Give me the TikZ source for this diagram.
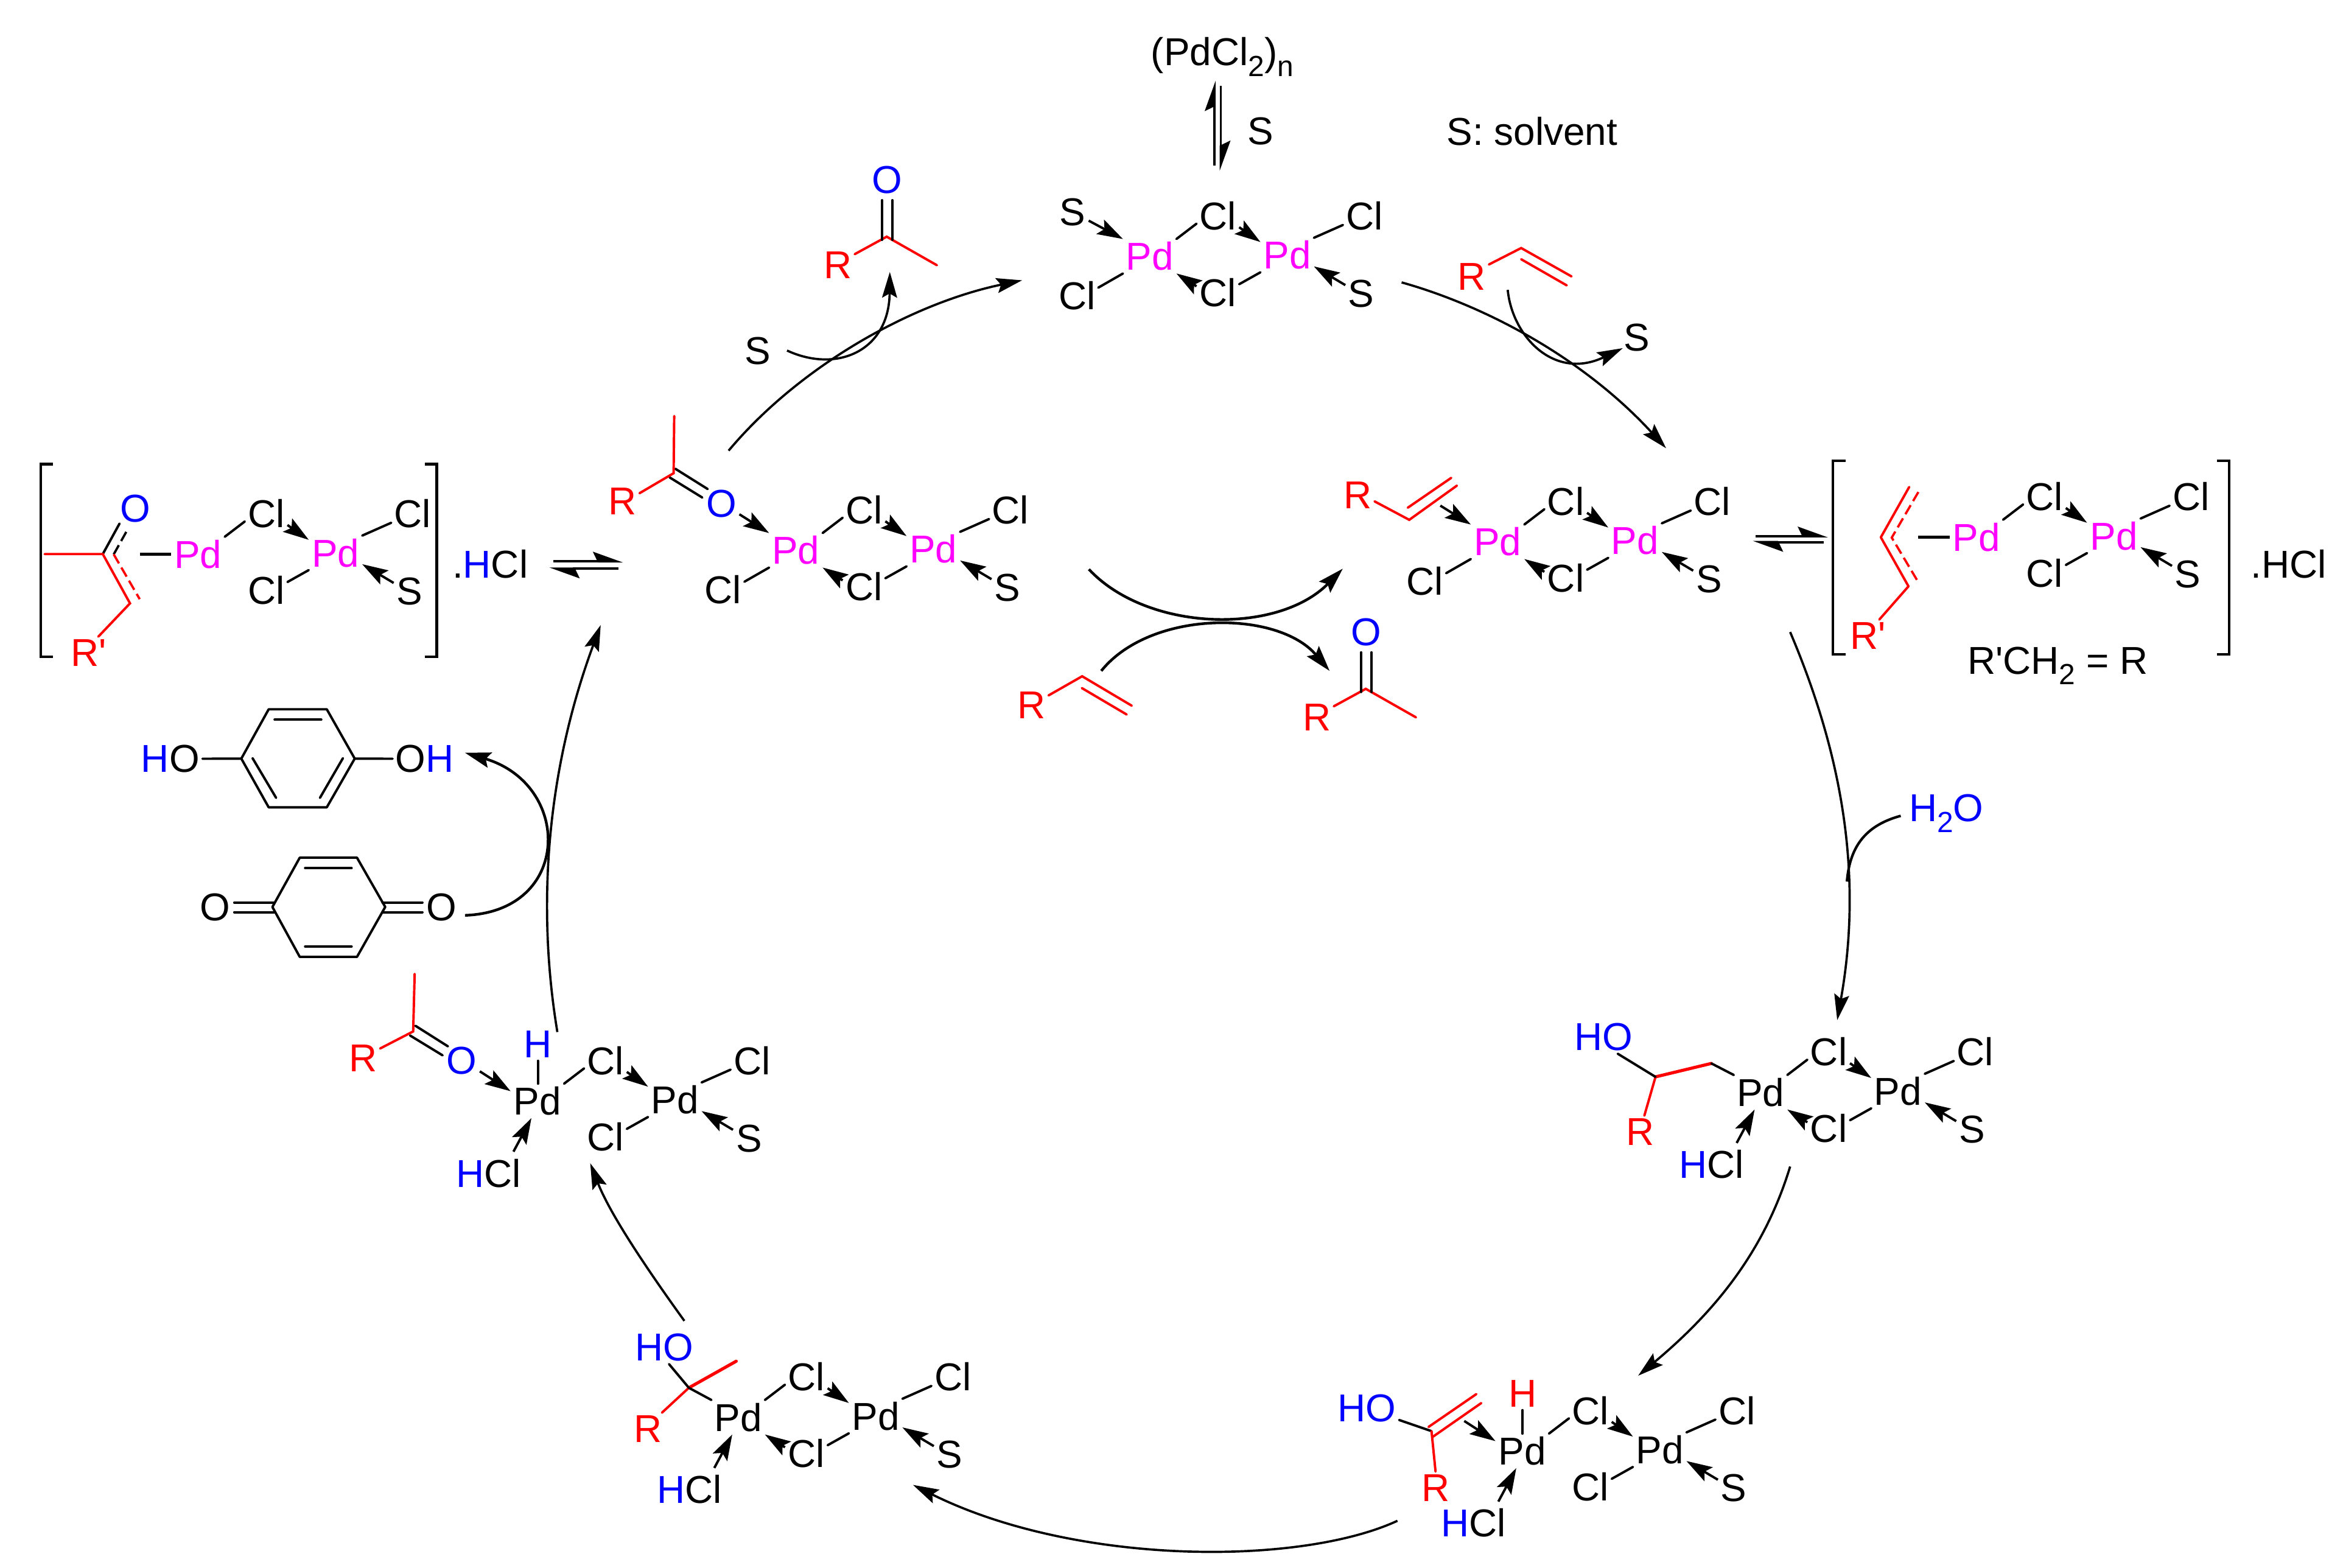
\documentclass[tikz,border=0pt]{standalone}
\usepackage{fontspec}
\setmainfont{Liberation Sans}[Ligatures=TeXOff]
\usetikzlibrary{arrows.meta}
\definecolor{cmag}{RGB}{255,0,255}
\definecolor{cred}{RGB}{255,0,0}
\definecolor{cblue}{RGB}{0,0,255}
\newcommand{\sbs}[1]{\raisebox{-0.28em}{\fontsize{9.75}{10}\selectfont #1}}
\newcommand{\bl}[1]{\textcolor{cblue}{#1}}
\newcommand{\prm}{\symbol{39}}
\tikzset{
  atom/.style={inner sep=1pt,outer sep=0pt,font=\fontsize{13}{15}\selectfont},
  bond/.style={line width=.8pt,line cap=round,black},
  rbond/.style={line width=.8pt,line cap=round,cred},
  rthick/.style={line width=1.05pt,line cap=round,cred},
  thickb/.style={line width=1.05pt,black},
  dat/.style={line width=.8pt,-{Stealth[length=8.6pt,width=5.4pt,inset=1.6pt]}},
  arc/.style={line width=.75pt,-{Stealth[length=8.6pt,width=5pt,inset=1.4pt]}},
  arcb/.style={line width=.9pt,-{Stealth[length=8.6pt,width=5.2pt,inset=1.4pt]}},
  hp/.style={line width=.8pt,-{Stealth[harpoon,length=9pt,width=6.4pt,inset=1.5pt]}},
  brk/.style={line width=.85pt,line join=miter},
  dashb/.style={line width=.75pt,dash pattern=on 3.5pt off 1.6pt,black},
  dashr/.style={line width=.75pt,dash pattern=on 3.5pt off 1.6pt,cred},
}
% Pd(Cl)Pd core: prefix, x, y, Pd colour
\newcommand{\pdcore}[4]{%
  \begin{scope}[shift={(#2,#3)}]
    \node[atom,text=#4] (#1a) at (0,0) {Pd};
    \node[atom,text=#4] (#1b) at (92,-.8) {Pd};
    \node[atom] (#1t) at (45.6,-27) {Cl};
    \node[atom] (#1u) at (45.6,24.2) {Cl};
    \node[atom] (#1r) at (143.6,-27) {Cl};
    \node[atom] (#1s) at (141.6,25) {S};
  \end{scope}
  \draw[bond] (#1a.north east) -- (#1t.200);
  \draw[dat] (#1t.-28) -- (#1b.154);
  \draw[bond] (#1b.north east) -- (#1r.203);
  \draw[bond] (#1b.south west) -- (#1u.21);
  \draw[dat] (#1s.152) -- (#1b.-23);
}
\newcommand{\bridgecl}[1]{\draw[dat] (#1u.164) -- (#1a.south east);}
\newcommand{\clleft}[1]{%
  \node[atom] (#1l) at ([shift={(-48.7,26.5)}]#1a.center) {Cl};
  \draw[bond] (#1a.south west) -- (#1l.21);
}
\newcommand{\hclarrow}[1]{%
  \node[atom] (#1h) at ([shift={(-32.7,48.3)}]#1a.center) {\bl{H}Cl};
  \path (#1a.-109) ++(-12,22.4) coordinate (#1q);
  \draw[dat] (#1q) -- (#1a.-109);
}
% ketone: prefix, x, y of carbonyl C
\newcommand{\ketone}[3]{%
  \begin{scope}[shift={(#2,#3)}]
    \coordinate (#1c) at (0,0);
    \coordinate (#1m) at (33.6,19.1);
    \coordinate (#1p) at (-3.1,-24.4);
    \coordinate (#1pp) at (-3.1,2.1);
    \coordinate (#1w) at (3.8,-24.4);
    \coordinate (#1ww) at (3.8,2.1);
    \node[atom,text=cblue] (#1o) at (.1,-38) {O};
    \node[atom,text=cred] (#1r) at (-32.8,19.1) {R};
  \end{scope}
  \draw[rbond] (#1r.33) -- (#1c) -- (#1m);
  \draw[bond] (#1p) -- (#1pp);
  \draw[bond] (#1w) -- (#1ww);
}
\begin{document}
\begin{tikzpicture}[x=.5pt,y=-.5pt]
\useasboundingbox (0,0) rectangle (1568,1049);
\fill[white] (0,0) rectangle (1568,1049);

% ---- top: source of catalyst
\node[atom,anchor=base] (pdn) at (818,43.8) {(PdCl\sbs{2})\sbs{n}};
\coordinate (eqa1) at (812.7,111); \coordinate (eqa2) at (812.7,54);
\coordinate (eqb1) at (817,57.5);  \coordinate (eqb2) at (817,114.4);
\draw[hp] (eqa1) -- (eqa2);
\draw[hp] (eqb1) -- (eqb2);
\node[atom] (eqs) at (843.7,87.8) {S};
\node[atom] (solv) at (1025.3,87.8) {S: solvent};

% ---- top dimer
\pdcore{A}{769.4}{171.5}{cmag}
\bridgecl{A}
\clleft{A}
\node[atom] (Asl) at ([shift={(-51.5,-29.5)}]Aa.center) {S};
\draw[dat] (Asl.-28) -- (Aa.north west);

% ---- left mid dimer
\pdcore{B}{532.6}{368.3}{cmag}
\bridgecl{B}
\clleft{B}
\coordinate (bc) at (450.8,316.7);
\coordinate (bme) at (451.2,278.4);
\node[atom,text=cred] (brr) at (416.6,335.4) {R};
\node[atom,text=cblue] (bo) at (482.7,337.2) {O};
\coordinate (bd1) at (451.9,313.7); \coordinate (bd2) at (473.6,327.3);
\coordinate (bd3) at (448.1,319.5); \coordinate (bd4) at (470,333);
\draw[bond] (bd1) -- (bd2);
\draw[bond] (bd3) -- (bd4);
\draw[rbond] (brr.25) -- (bc) -- (bme);
\draw[dat] (bo.-30) -- (Ba.north west);

% ---- right mid dimer
\pdcore{C}{1002.2}{362.6}{cmag}
\bridgecl{C}
\clleft{C}
\node[atom,text=cred] (crr) at (908.5,331.4) {R};
\coordinate (cv) at (943.1,347.9);
\coordinate (cv1) at (975,325);
\coordinate (cv2) at (942.1,339.8); \coordinate (cv3) at (971.2,319.8);
\coordinate (cq) at (963.9,338.4);
\draw[rbond] (crr.-20) -- (cv) -- (cv1);
\draw[rbond] (cv2) -- (cv3);
\draw[dat] (cq) -- (Ca.north west);

% ---- hydroxy-alkyl complex (right)
\pdcore{D}{1178.2}{731}{black}
\bridgecl{D}
\hclarrow{D}
\node[atom] (dho) at (1073.2,694) {\bl{HO}};
\node[atom,text=cred] (drr) at (1097.5,757.6) {R};
\coordinate (dc) at (1107.9,720.7);
\coordinate (dm) at (1145.3,711.7);
\draw[rbond] (drr.75) -- (dc);
\draw[rthick] (dc) -- (dm);
\draw[bond] (dho.-50) -- (dc);
\draw[bond] (dm) -- (Da.north west);

% ---- enol complex (bottom right)
\pdcore{E}{1018.7}{971}{black}
\hclarrow{E}
\node[atom,text=cred] (eh) at (1018.9,932.8) {H};
\draw[bond] (eh.south) -- (Ea.north -| eh.south);
\node[atom] (eho) at (914.8,942.5) {\bl{HO}};
\node[atom,text=cred] (err) at (960.7,995.8) {R};
\coordinate (ec) at (958,957.8);
\coordinate (e1) at (956,955);   \coordinate (e2) at (988,933);
\coordinate (e3) at (959,961.5); \coordinate (e4) at (991.3,939);
\coordinate (eq) at (979.9,951);
\draw[bond] (eho.-20) -- (ec);
\draw[rbond] (e1) -- (e2);
\draw[rbond] (e3) -- (e4);
\draw[rbond] (ec) -- (err.north);
\draw[dat] (eq) -- (Ea.160);

% ---- alkoxy complex (bottom left)
\pdcore{F}{494}{948.5}{black}
\bridgecl{F}
\hclarrow{F}
\node[atom] (fho) at (444.7,901.7) {\bl{HO}};
\node[atom,text=cred] (frr) at (433.8,956.4) {R};
\coordinate (fc) at (461,928.8);
\coordinate (fm) at (492.7,911);
\draw[rbond] (frr.50) -- (fc);
\draw[rthick] (fc) -- (fm);
\draw[bond] (fho.-75) -- (fc);
\draw[bond] (fc) -- (Fa.north west);

% ---- ketone hydride complex (left lower)
\pdcore{G}{359.6}{736.8}{black}
\hclarrow{G}
\node[atom,text=cblue] (gh) at (360,699) {H};
\draw[bond] (gh.south) -- (Ga.north -| gh.south);
\coordinate (gc) at (276.5,690.3);
\coordinate (gme) at (277.5,651.8);
\node[atom,text=cred] (grr) at (243,708.3) {R};
\node[atom,text=cblue] (go) at (309,710) {O};
\coordinate (gd1) at (278,686.5);   \coordinate (gd2) at (299.8,700.3);
\coordinate (gd3) at (274.4,693);   \coordinate (gd4) at (296.2,706.3);
\draw[bond] (gd1) -- (gd2);
\draw[bond] (gd3) -- (gd4);
\draw[rbond] (grr.30) -- (gc) -- (gme);
\draw[dat] (go.-30) -- (Ga.160);

% ---- left bracket
\pdcore{L}{132.5}{370.8}{cmag}
\coordinate (lb1) at (35.6,310.6); \coordinate (lb2) at (27.3,310.6);
\coordinate (lb3) at (27.3,439.7); \coordinate (lb4) at (35.6,439.7);
\draw[brk] (lb1) -- (lb2) -- (lb3) -- (lb4);
\coordinate (rb1) at (284.5,310.6); \coordinate (rb2) at (292.3,310.6);
\coordinate (rb3) at (292.3,439.7); \coordinate (rb4) at (284.5,439.7);
\draw[brk] (rb1) -- (rb2) -- (rb3) -- (rb4);
\coordinate (lme) at (29.9,370.8);
\coordinate (lc) at (68.8,370.8);
\coordinate (lc2) at (87,403.8);
\coordinate (lo1) at (80,350.4);
\coordinate (lo2) at (76.1,371); \coordinate (lo3) at (85.7,353.8);
\coordinate (lr1) at (93.5,401);
\coordinate (lpd) at (93.5,370.8);
\node[atom,text=cblue] (lo) at (90.4,340.2) {O};
\node[atom,text=cred] (lrp) at (59.5,437) {R\prm};
\draw[bond] (lc) -- (lo1);
\draw[dashb] (lo2) -- (lo3);
\draw[dashr] (lo2) -- (lr1);
\draw[rbond] (lme) -- (lc) -- (lc2) -- (lrp.60);
\draw[thickb] (lpd) -- (La.west);
\node[atom] (lhcl) at (328,377.5) {.\bl{H}Cl};

% ---- right bracket
\pdcore{K}{1322.6}{359.4}{cmag}
\coordinate (kb1) at (1235,308.5); \coordinate (kb2) at (1226.6,308.5);
\coordinate (kb3) at (1226.6,437.9); \coordinate (kb4) at (1235,437.9);
\draw[brk] (kb1) -- (kb2) -- (kb3) -- (kb4);
\coordinate (kb5) at (1483.6,308.5); \coordinate (kb6) at (1491.7,308.5);
\coordinate (kb7) at (1491.7,437.9); \coordinate (kb8) at (1483.6,437.9);
\draw[brk] (kb5) -- (kb6) -- (kb7) -- (kb8);
\coordinate (k1) at (1277.7,325.9);
\coordinate (k2) at (1258.7,359.6);
\coordinate (k3) at (1277.2,392.4);
\coordinate (k4) at (1283.8,329.3);
\coordinate (k5) at (1266,359.8);
\coordinate (k6) at (1283.8,389.7);
\coordinate (kpd) at (1283.8,359.4);
\node[atom,text=cred] (krp) at (1250,425.6) {R\prm};
\draw[rbond,line join=round] (k1) -- (k2) -- (k3) -- (krp.55);
\draw[dashr] (k4) -- (k5) -- (k6);
\draw[thickb] (kpd) -- (Ka.west);
\node[atom] (khcl) at (1531.7,377.5) {.HCl};
\node[atom,anchor=base] (keq) at (1377,451) {R\prm CH\sbs{2} = R};

% ---- equilibrium arrows (horizontal)
\coordinate (l1) at (370.2,375.7); \coordinate (l2) at (417.1,375.7);
\coordinate (l3) at (413.8,380.6); \coordinate (l4) at (367.6,380.6);
\draw[hp] (l1) -- (l2);
\draw[hp] (l3) -- (l4);
\coordinate (r1) at (1175,358.9); \coordinate (r2) at (1223.4,358.9);
\coordinate (r3) at (1220.5,362.8); \coordinate (r4) at (1173,362.8);
\draw[hp] (r1) -- (r2);
\draw[hp] (r3) -- (r4);

% ---- ketone (top) and S
\ketone{ka}{593.4}{158.4}
\node[atom] (sk) at (507,235) {S};
\coordinate (sk1) at (526.7,234.6); \coordinate (sk2) at (595.5,182);
\draw[arc] (sk1) .. controls (560,250) and (595,235) .. (sk2);

% ---- alkene (top right) and S
\node[atom,text=cred] (vr) at (985,185) {R};
\coordinate (v1) at (1018,166); \coordinate (v2) at (1051.7,185);
\coordinate (v3) at (1018,173.5); \coordinate (v4) at (1048.5,191);
\draw[rbond] (vr.35) -- (v1) -- (v2);
\draw[rbond] (v3) -- (v4);
\node[atom] (vs) at (1095.5,226) {S};
\coordinate (vs1) at (1009,194); \coordinate (vs2) at (1086,233);
\draw[arc] (vs1) .. controls (1012,225) and (1040,255) .. (vs2);

% ---- centre alkene and ketone
\node[atom,text=cred] (mr) at (690.3,472) {R};
\coordinate (m1) at (724.2,452.6); \coordinate (m2) at (757.4,472.3);
\coordinate (m3) at (724,460.5);   \coordinate (m4) at (754,478.2);
\draw[rbond] (mr.30) -- (m1) -- (m2);
\draw[rbond] (m3) -- (m4);
\ketone{kb}{914}{461}
\coordinate (ca1) at (728.7,381); \coordinate (ca2) at (898.6,380.6);
\draw[arcb] (ca1) .. controls (768,423) and (855,425) .. (ca2);
\coordinate (cb1) at (737,449); \coordinate (cb2) at (889.8,449);
\draw[arcb] (cb1) .. controls (770,408) and (855,408) .. (cb2);

% ---- hydroquinone
\node[atom] (qho) at (114,507.8) {\bl{H}O};
\node[atom] (qoh) at (284.2,507.8) {O\bl{H}};
\coordinate (h1) at (161.5,507.7); \coordinate (h2) at (179.8,474.7);
\coordinate (h3) at (218.7,474.7); \coordinate (h4) at (237.4,507.7);
\coordinate (h5) at (218.7,540.3); \coordinate (h6) at (179.8,540.3);
\coordinate (hi1) at (183.8,481.7); \coordinate (hi2) at (215,481.7);
\coordinate (hi3) at (169,507.4);  \coordinate (hi4) at (184.8,534);
\coordinate (hi5) at (229.5,507.4); \coordinate (hi6) at (214.1,534);
\draw[bond,line join=round] (h1) -- (h2) -- (h3) -- (h4) -- (h5) -- (h6) -- cycle;
\draw[bond] (hi1) -- (hi2);
\draw[bond] (hi3) -- (hi4);
\draw[bond] (hi5) -- (hi6);
\draw[bond] (qho.east) -- (h1);
\draw[bond] (h4) -- (qoh.west);

% ---- quinone
\node[atom] (qol) at (143.9,607.3) {O};
\node[atom] (qor) at (295.6,607.3) {O};
\coordinate (q1) at (182.3,607);   \coordinate (q2) at (200.6,574);
\coordinate (q3) at (238.9,574);   \coordinate (q4) at (257.8,607);
\coordinate (q5) at (238.9,640.4); \coordinate (q6) at (200.6,640.4);
\coordinate (qi1) at (204.2,581);  \coordinate (qi2) at (235.3,581);
\coordinate (qi3) at (204.2,633.5); \coordinate (qi4) at (235.3,633.5);
\coordinate (qa1) at (156.8,604);  \coordinate (qa2) at (183.4,604);
\coordinate (qa3) at (156.8,610.5); \coordinate (qa4) at (183.4,610.5);
\coordinate (qb1) at (256,604);    \coordinate (qb2) at (282.7,604);
\coordinate (qb3) at (256,610.5);  \coordinate (qb4) at (282.7,610.5);
\draw[bond,line join=round] (q1) -- (q2) -- (q3) -- (q4) -- (q5) -- (q6) -- cycle;
\draw[bond] (qi1) -- (qi2);
\draw[bond] (qi3) -- (qi4);
\draw[bond] (qa1) -- (qa2);
\draw[bond] (qa3) -- (qa4);
\draw[bond] (qb1) -- (qb2);
\draw[bond] (qb3) -- (qb4);
\coordinate (qq1) at (311.2,612.6); \coordinate (qq2) at (311.2,503.8);
\draw[arcb] (qq1) .. controls (383,610) and (383,525) .. (qq2);

% ---- water
\node[atom,text=cblue] (wat) at (1302.5,544.5) {H\sbs{2}O};
\coordinate (w1) at (1272,546); \coordinate (w2) at (1236,590);
\draw[line width=.85pt] (w1) .. controls (1250,552) and (1238,565) .. (w2);

% ---- catalytic cycle arrows
\coordinate (c1s) at (487.6,301.6); \coordinate (c1e) at (684,187.6);
\draw[arc] (c1s) .. controls (535,245) and (610,203) .. (c1e);
\coordinate (c2s) at (938,189); \coordinate (c2e) at (1115,300);
\draw[arc] (c2s) .. controls (995,205) and (1060,240) .. (c2e);
\coordinate (c3s) at (1198,423); \coordinate (c3e) at (1229.5,682.7);
\draw[arc] (c3s) .. controls (1235,510) and (1246,590) .. (c3e);
\coordinate (c4s) at (1198,780.7); \coordinate (c4e) at (1096.3,920.7);
\draw[arc] (c4s) .. controls (1180,840) and (1145,880) .. (c4e);
\coordinate (c5s) at (935.2,1017.8); \coordinate (c5e) at (611,993.8);
\draw[arc] (c5s) .. controls (870,1048) and (720,1048) .. (c5e);
\coordinate (c6s) at (458,884); \coordinate (c6e) at (395,778.5);
\draw[arc] (c6s) .. controls (432,848) and (408,812) .. (c6e);
\coordinate (c7s) at (373,690.7); \coordinate (c7e) at (402,418.3);
\draw[arc] (c7s) .. controls (358,600) and (368,510) .. (c7e);
\end{tikzpicture}
\end{document}
